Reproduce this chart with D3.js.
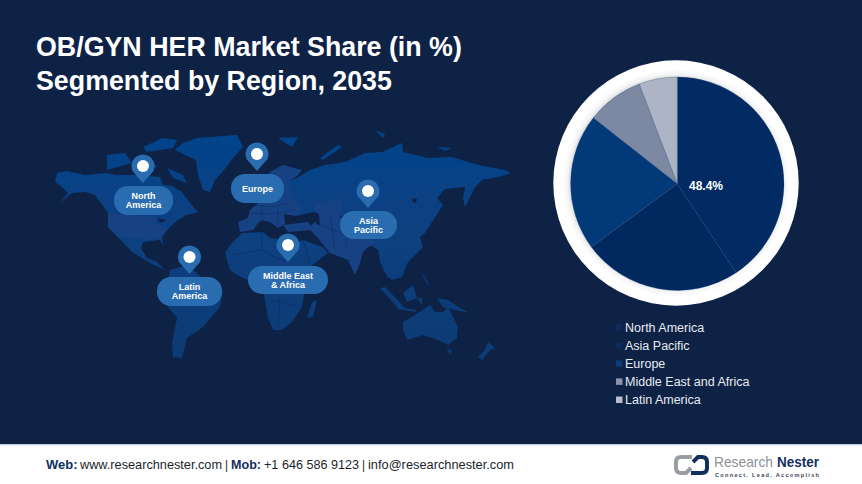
<!DOCTYPE html>
<html>
<head>
<meta charset="utf-8">
<script src="https://cdn.jsdelivr.net/npm/d3@7"></script>
<style>
  html, body { margin: 0; padding: 0; background: #0e2246; }
  svg { display: block; font-family: "Liberation Sans", Arial, sans-serif; }
</style>
</head>
<body>
<div id="chart"></div>
<script>
// pie data
const regions = ["North America", "Asia Pacific", "Europe", "Middle East and Africa", "Latin America"];
const shares = [40.7, 24.2, 20.7, 8.6, 5.8];
const sliceColors = ["#022b63", "#01295f", "#023a79", "#7d88a3", "#adb4c5"];
const legendColors = ["#0d2a58", "#0c2a5a", "#0f3a75", "#8a93aa", "#b8bdcb"];
const sliceLabel = "48.4%";

const titleLines = ["OB/GYN HER Market Share (in %)", "Segmented by Region, 2035"];

// map callouts: label lines, pin head position
const pinNames = [["North", "America"], ["Europe"], ["Latin", "America"], ["Middle East", "& Africa"], ["Asia", "Pacific"]];
const pinCenters = [[143, 166], [257, 154], [189.5, 257], [288, 245], [368, 191]];
const pillBoxes = [[114, 186, 59, 29], [231, 174, 53, 29], [157, 277, 65, 29], [248, 266, 80, 28], [340, 211, 57, 28]];

// rough continent outlines (page pixels)
const landDark = [
  // canada + alaska + mexico
  [[55,182],[57,173],[67,171],[85,175],[107,173],[117,175],[135,175],[160,177],[163,185],[172,186],[182,192],[190,203],[198,212],[187,215],[178,220],[170,227],[162,237],[163,245],[160,240],[143,242],[141,248],[147,258],[157,262],[165,270],[150,263],[132,252],[118,237],[108,227],[108,213],[95,195],[85,192],[72,193],[60,203],[68,193],[62,187]],
  // greenland
  [[175,150],[183,143],[197,138],[237,135],[243,147],[233,158],[224,170],[215,180],[210,192],[203,190],[198,175],[196,160],[185,155]],
  // arctic islands
  [[107,155],[125,153],[132,163],[107,170]],
  [[143,147],[163,138],[177,140],[173,148],[147,152]],
  [[167,168],[183,175],[187,183],[173,178]],
  [[133,163],[150,158],[157,167],[140,172]],
  // south america
  [[170,270],[187,265],[205,280],[223,290],[220,307],[203,327],[187,338],[182,358],[173,357],[172,343],[177,318],[168,307],[165,300]],
  // africa + arabia
  [[225,253],[230,245],[242,233],[263,232],[270,238],[297,242],[303,240],[323,247],[328,253],[310,267],[303,275],[305,290],[302,307],[292,322],[282,330],[273,330],[268,318],[265,300],[262,287],[237,275],[230,270]],
  // russia + east asia
  [[285,205],[285,182],[297,178],[310,170],[325,165],[345,162],[365,153],[382,152],[402,143],[403,152],[428,158],[452,157],[478,165],[505,170],[511,173],[498,177],[482,180],[475,187],[465,207],[463,198],[465,187],[445,189],[437,198],[443,205],[425,233],[420,237],[423,247],[408,262],[402,277],[388,278],[380,262],[378,250],[362,240],[340,215],[313,212],[296,216]],
  // arctic russia bits
  [[320,158],[338,145],[342,147],[323,160]],
  [[278,138],[298,137],[292,147]],
  [[375,130],[385,134],[383,138]],
  [[437,147],[452,148],[445,151]],
  // indochina + malay
  [[383,270],[403,270],[402,277],[392,280],[387,275]],
  [[380,288],[385,287],[405,308],[398,308]],
  // islands
  [[403,293],[413,285],[417,298],[407,302]],
  [[420,270],[428,282],[430,287],[425,280]],
  [[417,298],[422,298],[422,305]],
  [[437,298],[448,300],[460,308],[470,313],[455,310],[443,307]],
  [[397,307],[417,310],[415,312],[398,309]],
  // australia
  [[403,322],[418,313],[430,305],[435,312],[443,312],[448,307],[458,327],[457,338],[448,345],[438,340],[423,335],[407,340],[403,330]],
  [[447,349],[452,350],[450,355]],
  // madagascar, nz
  [[312,302],[317,300],[313,317],[307,318]],
  [[488,342],[495,348],[490,350],[482,360],[478,357],[485,350]]
];
const landMid = [
  // usa
  [[108,213],[157,217],[155,223],[168,227],[162,237],[150,240],[130,238],[118,237],[108,227]],
  // europe
  [[270,172],[283,165],[302,170],[297,176],[288,182],[292,195],[302,208],[296,216],[284,214],[285,224],[278,228],[270,222],[262,220],[258,223],[253,230],[240,232],[238,222],[248,218],[250,210],[258,203],[262,190]],
  // turkey
  [[283,225],[308,222],[313,230],[288,232]],
  // central asia + india
  [[317,220],[313,205],[343,198],[340,217],[377,243],[368,247],[363,252],[360,263],[355,275],[348,260],[330,253],[317,237],[308,228]]
];
const waters = [
  [[293,217],[308,218],[306,222],[295,221]],
  [[315,212],[319,214],[320,225],[316,224]],
  [[157,218],[167,220],[160,223]],
  [[413,198],[417,199],[416,203],[412,202]]
];
const borderLines = [
  [[255,205],[272,207],[290,203]], [[250,213],[272,214],[295,210]], [[262,205],[262,220]], [[278,204],[278,226]],
  [[232,255],[262,250],[262,232]], [[262,250],[285,262]], [[270,300],[295,305]], [[280,296],[278,328]],
  [[320,225],[345,235]], [[330,215],[335,250]], [[350,225],[345,250]], [[303,240],[310,262]]
];

const footerParts = [
  ["Web:", true, 46, 31.5],
  ["www.researchnester.com", false, 80, 142],
  ["|", false, 225, 3],
  ["Mob:", true, 231, 30],
  ["+1 646 586 9123", false, 264, 95],
  ["|", false, 362, 3],
  ["info@researchnester.com", false, 368, 146]
];

const W = 862, H = 484;
const svg = d3.select("#chart").append("svg").attr("width", W).attr("height", H);
const defs = svg.append("defs");

svg.append("rect").attr("width", W).attr("height", H).attr("fill", "#0e2246");

// title
svg.append("g").selectAll("text").data(titleLines).enter().append("text")
  .attr("x", 36)
  .attr("y", (d, i) => 56 + i * 34)
  .attr("fill", "#fff")
  .attr("font-size", 26.8)
  .attr("font-weight", "bold")
  .text(d => d);

// world map
defs.append("filter").attr("id", "soft").append("feGaussianBlur").attr("stdDeviation", 0.4);
const landGrad = defs.append("linearGradient").attr("id", "land")
  .attr("gradientUnits", "userSpaceOnUse")
  .attr("x1", 0).attr("y1", 135).attr("x2", 0).attr("y2", 360);
landGrad.append("stop").attr("offset", 0).attr("stop-color", "#06448a");
landGrad.append("stop").attr("offset", 1).attr("stop-color", "#093a73");

const outline = d3.line().curve(d3.curveLinearClosed);
const map = svg.append("g").attr("filter", "url(#soft)");
map.selectAll("path.dark").data(landDark).enter().append("path")
  .attr("class", "dark").attr("d", outline).attr("fill", "url(#land)");
map.selectAll("path.mid").data(landMid).enter().append("path")
  .attr("class", "mid").attr("d", outline).attr("fill", "#164283");
map.selectAll("path.water").data(waters).enter().append("path")
  .attr("class", "water").attr("d", outline).attr("fill", "#0e2246");
map.selectAll("path.border").data(borderLines).enter().append("path")
  .attr("class", "border").attr("d", d3.line()).attr("fill", "none")
  .attr("stroke", "#0e2c60").attr("stroke-width", 0.6);

// pins and labels
const pins = svg.append("g");
pinNames.forEach((lines, i) => {
  const [cx, cy] = pinCenters[i];
  const [bx, by, bw, bh] = pillBoxes[i];
  const r = 11.5;
  pins.append("path")
    .attr("d", `M${cx - r * 0.88},${cy + r * 0.48} A${r},${r} 0 1 1 ${cx + r * 0.88},${cy + r * 0.48} L${cx},${cy + 17} Z`)
    .attr("fill", "#2a6cb0");
  pins.append("circle").attr("cx", cx).attr("cy", cy).attr("r", 6).attr("fill", "#fff");
  pins.append("rect")
    .attr("x", bx).attr("y", by).attr("width", bw).attr("height", bh)
    .attr("rx", 14).attr("fill", "#2a6cb0");
  lines.forEach((t, j) => {
    pins.append("text")
      .attr("x", bx + bw / 2)
      .attr("y", by + bh / 2 + 3.2 + (j - (lines.length - 1) / 2) * 8.8)
      .attr("text-anchor", "middle")
      .attr("fill", "#fff")
      .attr("font-size", 9)
      .attr("font-weight", "bold")
      .text(t);
  });
});

// pie
const pieR = 106.7, ringR = 122.7;
const ringGrad = defs.append("radialGradient").attr("id", "ring");
[[0.86, "#d9dbe0"], [0.885, "#f3f4f5"], [0.93, "#ffffff"], [1, "#ffffff"]].forEach(([o, c]) => {
  ringGrad.append("stop").attr("offset", o).attr("stop-color", c);
});
svg.append("circle").attr("cx", 676).attr("cy", 183).attr("r", ringR).attr("fill", "url(#ring)");
const pieG = svg.append("g").attr("transform", "translate(677.3,183.7)");
const arc = d3.arc().innerRadius(0).outerRadius(pieR);
pieG.selectAll("path").data(d3.pie().sort(null)(shares)).enter().append("path")
  .attr("d", arc)
  .attr("fill", (d, i) => sliceColors[i])
  .attr("stroke", "#1b4073")
  .attr("stroke-width", 0.3);
pieG.append("text")
  .attr("x", 28.7).attr("y", 6)
  .attr("text-anchor", "middle")
  .attr("fill", "#fff")
  .attr("font-size", 12)
  .attr("font-weight", "bold")
  .text(sliceLabel);

// legend
const legendY = d3.scalePoint().domain(regions).range([327, 399.5]);
const legend = svg.append("g");
regions.forEach((name, i) => {
  legend.append("rect")
    .attr("x", 616).attr("y", legendY(name) - 3)
    .attr("width", 6.5).attr("height", 6.5)
    .attr("fill", legendColors[i]);
  legend.append("text")
    .attr("x", 625).attr("y", legendY(name) + 4.5)
    .attr("fill", "#e8ebf0")
    .attr("font-size", 12.5)
    .text(name);
});

// footer
svg.append("rect").attr("y", 445).attr("width", W).attr("height", 39).attr("fill", "#fff");
svg.append("rect").attr("y", 444).attr("width", W).attr("height", 1.5).attr("fill", "#c9d6e2");
svg.append("g").selectAll("text").data(footerParts).enter().append("text")
  .attr("x", d => d[2])
  .attr("y", 469)
  .attr("font-size", 12.6)
  .attr("font-weight", d => d[1] ? "bold" : "normal")
  .attr("fill", d => d[1] ? "#12305e" : "#1a1f2c")
  .attr("textLength", d => d[3])
  .attr("lengthAdjust", "spacingAndGlyphs")
  .text(d => d[0]);

// logo
const logo = svg.append("g").attr("fill", "none").attr("stroke-width", 4);
logo.append("path")
  .attr("d", "M692,457 H681 Q676,457 676,462 V468 Q676,473 681,473 H686 L691,468")
  .attr("stroke", "#9a9da3");
logo.append("path")
  .attr("d", "M691,473 H702 Q707,473 707,468 V462 Q707,457 702,457 H698 L693,462")
  .attr("stroke", "#12305e");
logo.append("text").attr("x", 714).attr("y", 466.5).attr("font-size", 15).attr("stroke", "none")
  .attr("textLength", 59).attr("lengthAdjust", "spacingAndGlyphs").attr("fill", "#8d9196").text("Research");
logo.append("text").attr("x", 777).attr("y", 466.5).attr("font-size", 15).attr("font-weight", "bold").attr("stroke", "none")
  .attr("textLength", 42).attr("lengthAdjust", "spacingAndGlyphs").attr("fill", "#12305e").text("Nester");
logo.append("text").attr("x", 715).attr("y", 476.5).attr("font-size", 5.6).attr("font-weight", "bold").attr("stroke", "none")
  .attr("textLength", 104).attr("fill", "#3c4558").text("Connect. Lead. Accomplish");
</script>
</body>
</html>
